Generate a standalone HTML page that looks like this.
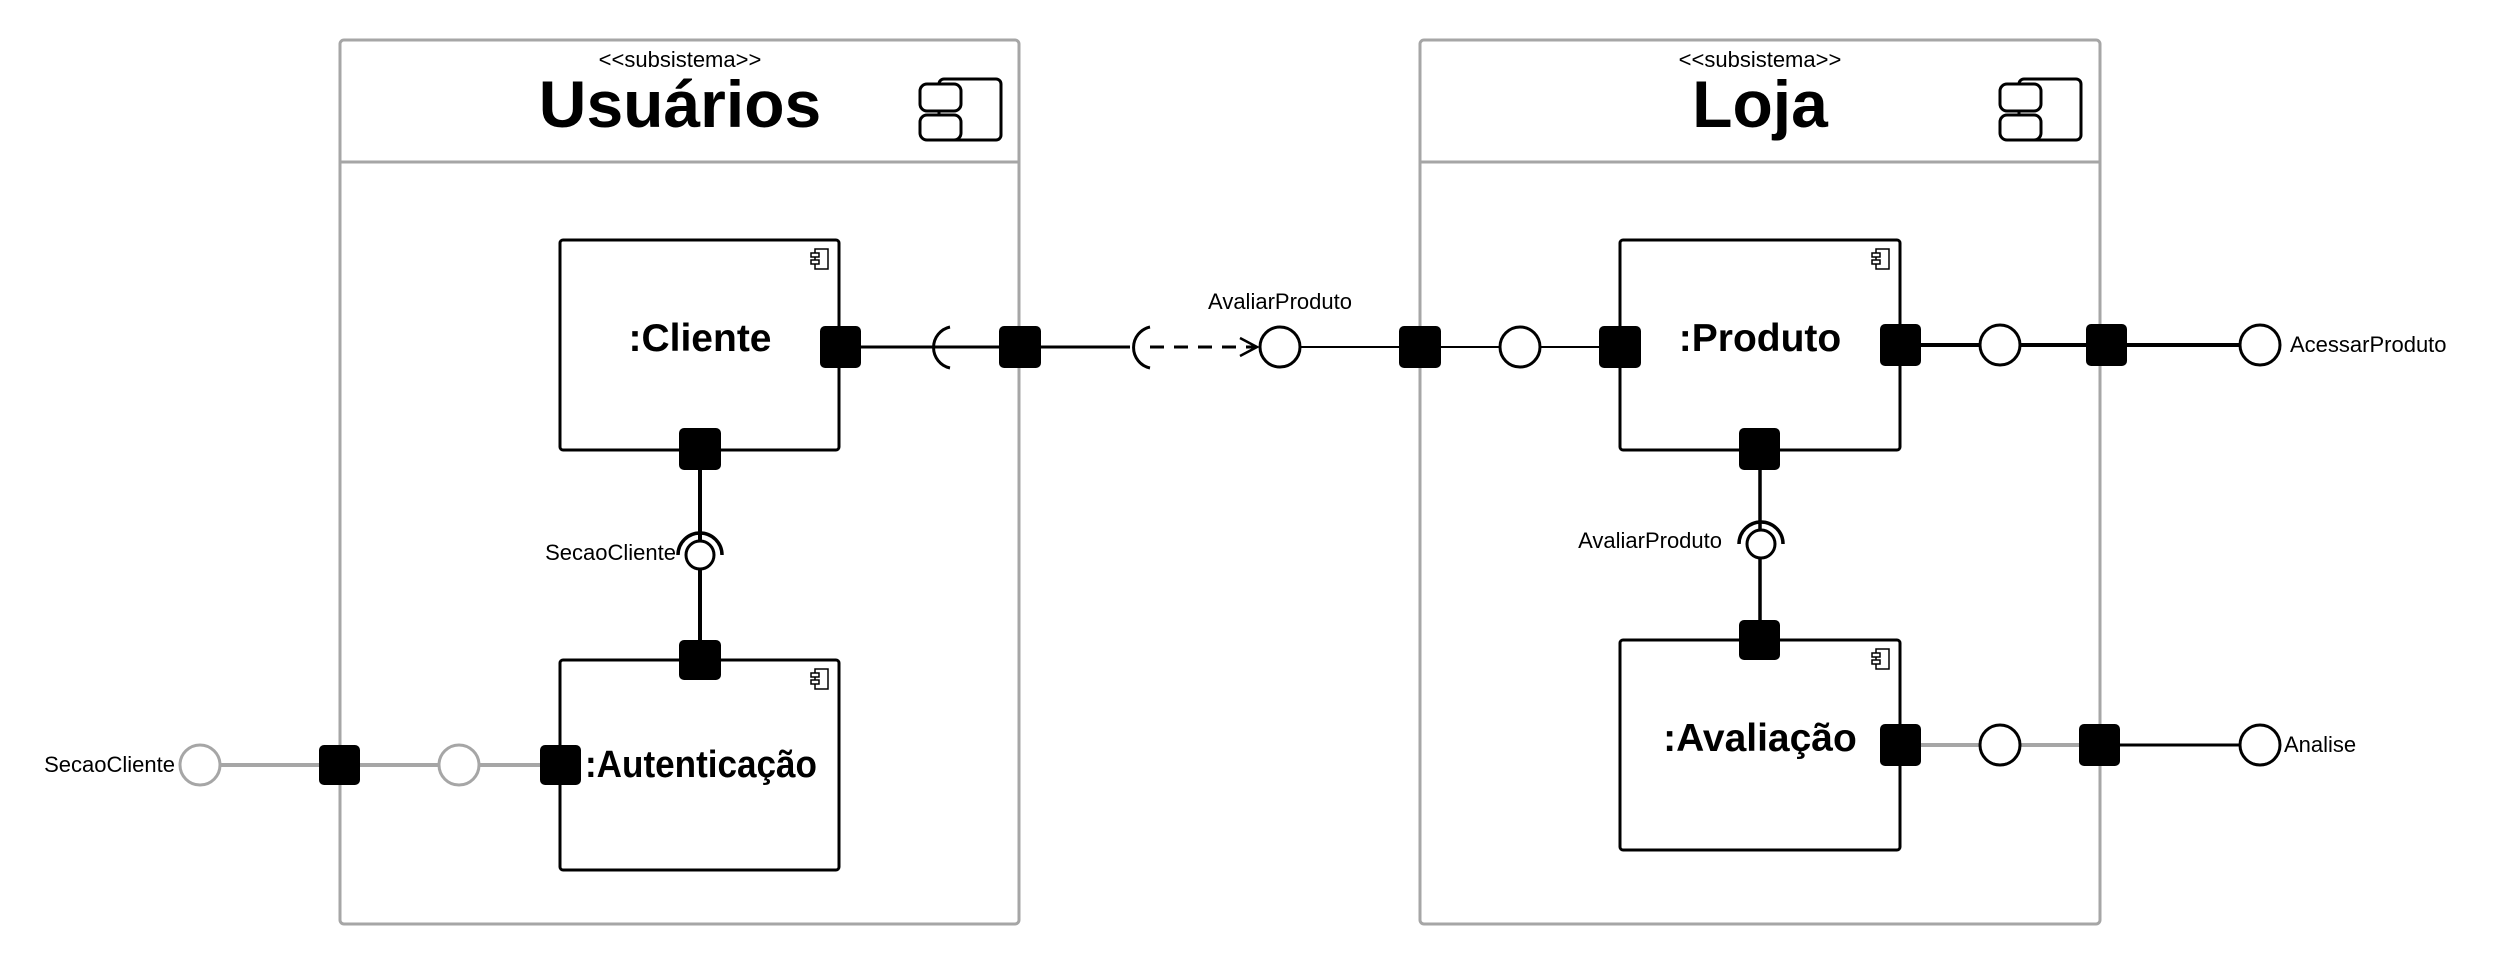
<!DOCTYPE html>
<html><head><meta charset="utf-8"><style>
html,body{margin:0;padding:0;background:#fff;}
svg{display:block;}
text{font-family:"Liberation Sans",sans-serif;}
</style></head><body>
<svg width="2500" height="965" viewBox="0 0 2500 965" xmlns="http://www.w3.org/2000/svg">
<defs>
<g id="bigicon">
<rect x="19" y="0" width="62" height="61" rx="5" fill="#fff" stroke="#000" stroke-width="3"/>
<rect x="0" y="5" width="41" height="27" rx="7" fill="#fff" stroke="#000" stroke-width="3"/>
<rect x="0" y="36" width="41" height="25" rx="7" fill="#fff" stroke="#000" stroke-width="3"/>
</g>
<g id="smicon">
<rect x="4" y="0" width="13" height="20" fill="none" stroke="#000" stroke-width="1.5"/>
<rect x="0" y="4" width="8" height="4" fill="#fff" stroke="#000" stroke-width="1.5"/>
<rect x="0" y="11" width="8" height="4" fill="#fff" stroke="#000" stroke-width="1.5"/>
</g>
</defs>

<!-- Frames -->
<rect x="340" y="40" width="679" height="884" rx="4" fill="#fff" stroke="#a6a6a6" stroke-width="3"/>
<line x1="340" y1="162" x2="1019" y2="162" stroke="#a6a6a6" stroke-width="3"/>
<rect x="1420" y="40" width="680" height="884" rx="4" fill="#fff" stroke="#a6a6a6" stroke-width="3"/>
<line x1="1420" y1="162" x2="2100" y2="162" stroke="#a6a6a6" stroke-width="3"/>

<text x="680" y="67" font-size="22" text-anchor="middle">&lt;&lt;subsistema&gt;&gt;</text>
<text x="680" y="127" font-size="66" font-weight="bold" text-anchor="middle">Usuários</text>
<use href="#bigicon" x="920" y="79"/>
<text x="1760" y="67" font-size="22" text-anchor="middle">&lt;&lt;subsistema&gt;&gt;</text>
<text x="1760" y="127" font-size="66" font-weight="bold" text-anchor="middle">Loja</text>
<use href="#bigicon" x="2000" y="79"/>

<!-- Component boxes -->
<rect x="560" y="240" width="279" height="210" rx="3" fill="#fff" stroke="#000" stroke-width="3"/>
<use href="#smicon" x="811" y="249"/>
<text x="700" y="351" font-size="39" font-weight="bold" text-anchor="middle">:Cliente</text>
<rect x="560" y="660" width="279" height="210" rx="3" fill="#fff" stroke="#000" stroke-width="3"/>
<use href="#smicon" x="811" y="669"/>
<text x="585" y="777" font-size="38" font-weight="bold" textLength="232" lengthAdjust="spacingAndGlyphs">:Autenticação</text>
<rect x="1620" y="240" width="280" height="210" rx="3" fill="#fff" stroke="#000" stroke-width="3"/>
<use href="#smicon" x="1872" y="249"/>
<text x="1760" y="351" font-size="39" font-weight="bold" text-anchor="middle">:Produto</text>
<rect x="1620" y="640" width="280" height="210" rx="3" fill="#fff" stroke="#000" stroke-width="3"/>
<use href="#smicon" x="1872" y="649"/>
<text x="1760" y="751" font-size="39" font-weight="bold" text-anchor="middle">:Avaliação</text>

<!-- Connectors top row -->
<g stroke="#000" stroke-width="3" fill="none">
<line x1="861" y1="347" x2="1130" y2="347"/>
<path d="M950 327 A21 21 0 0 0 950 368"/>
<path d="M1150 327 A21 21 0 0 0 1150 368"/>
<line x1="1150" y1="347" x2="1257" y2="347" stroke-dasharray="14 10"/>
<polyline points="1240,338 1257,347 1240,356" stroke-width="2.5"/>
<line x1="1300" y1="347" x2="1500" y2="347" stroke-width="2"/>
<line x1="1540" y1="347" x2="1600" y2="347" stroke-width="2"/>
<line x1="1900" y1="345" x2="2240" y2="345" stroke-width="4"/>
<!-- verticals -->
<line x1="700" y1="449" x2="700" y2="660" stroke-width="4"/>
<line x1="1760" y1="449" x2="1760" y2="640" stroke-width="3.5"/>
<path d="M678 555 A22 22 0 0 1 722 555" stroke-width="3.5"/>
<path d="M1739 544 A22 22 0 0 1 1783 544" stroke-width="3.5"/>
<!-- Analise -->
<line x1="2100" y1="745" x2="2240" y2="745"/>
</g>
<g stroke="#a6a6a6" stroke-width="4" fill="none">
<line x1="1900" y1="745" x2="2100" y2="745"/>
<line x1="220" y1="765" x2="560" y2="765"/>
</g>

<!-- circles -->
<g fill="#fff" stroke="#000" stroke-width="3">
<circle cx="1280" cy="347" r="20"/>
<circle cx="1520" cy="347" r="20"/>
<circle cx="2000" cy="345" r="20"/>
<circle cx="2260" cy="345" r="20"/>
<circle cx="2000" cy="745" r="20"/>
<circle cx="2260" cy="745" r="20"/>
<circle cx="700" cy="555" r="14"/>
<circle cx="1761" cy="544" r="14"/>
</g>
<g fill="#fff" stroke="#a6a6a6" stroke-width="3">
<circle cx="200" cy="765" r="20"/>
<circle cx="459" cy="765" r="20"/>
</g>

<!-- ports -->
<g fill="#000">
<rect x="820" y="326" width="41" height="42" rx="5"/>
<rect x="999" y="326" width="42" height="42" rx="5"/>
<rect x="679" y="428" width="42" height="42" rx="5"/>
<rect x="679" y="640" width="42" height="40" rx="5"/>
<rect x="540" y="745" width="41" height="40" rx="5"/>
<rect x="319" y="745" width="41" height="40" rx="5"/>
<rect x="1399" y="326" width="42" height="42" rx="5"/>
<rect x="1599" y="326" width="42" height="42" rx="5"/>
<rect x="1880" y="324" width="41" height="42" rx="5"/>
<rect x="2086" y="324" width="41" height="42" rx="5"/>
<rect x="1739" y="428" width="41" height="42" rx="5"/>
<rect x="1739" y="620" width="41" height="40" rx="5"/>
<rect x="1880" y="724" width="41" height="42" rx="5"/>
<rect x="2079" y="724" width="41" height="42" rx="5"/>
</g>

<!-- labels -->
<g font-size="22" fill="#000">
<text x="1280" y="309" text-anchor="middle">AvaliarProduto</text>
<text x="2290" y="352">AcessarProduto</text>
<text x="2284" y="752">Analise</text>
<text x="1722" y="548" text-anchor="end">AvaliarProduto</text>
<text x="676" y="560" text-anchor="end">SecaoCliente</text>
<text x="175" y="772" text-anchor="end">SecaoCliente</text>
</g>
</svg>
</body></html>
